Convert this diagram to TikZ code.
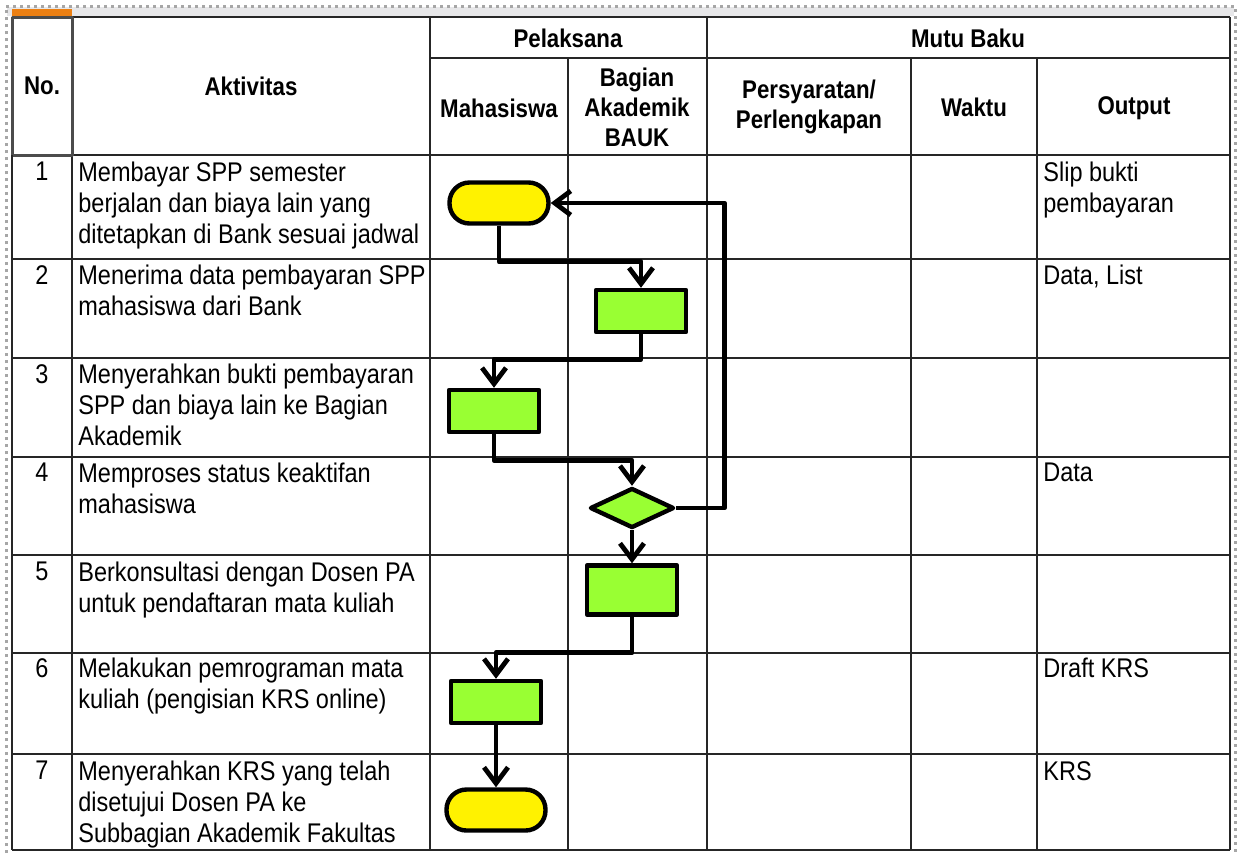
\documentclass[tikz,border=0pt]{standalone}
\usepackage{fontspec}
\setmainfont{Liberation Sans}[FakeStretch=0.87]
\usetikzlibrary{arrows.meta,shapes.geometric}
\definecolor{lgreen}{RGB}{153,255,51}

\begin{document}
\begin{tikzpicture}[x=0.5pt, y=-0.5pt, line join=round,
	grid/.style={line width=1.2pt, black!85},
	hd/.style={font=\fontsize{12.8}{15}\selectfont\bfseries, align=center, inner sep=0pt},
	txt/.style={font=\fontsize{13.5}{15.5}\selectfont, align=left, anchor=north west, inner sep=0pt},
	num/.style={font=\fontsize{13.5}{15.5}\selectfont, anchor=north, inner sep=0pt},
	term/.style={draw, line width=2.2pt, fill=yellow, rounded corners=10pt, minimum width=49.5pt, minimum height=20.5pt, inner sep=0pt},
	proc/.style={draw, line width=2.2pt, fill=lgreen, minimum width=45pt, minimum height=21pt, inner sep=0pt},
	dec/.style={diamond, draw, line width=2.2pt, fill=lgreen, minimum width=42pt, minimum height=20pt, inner sep=0pt},
	flow/.style={line width=2.4pt, -{Straight Barb[length=8pt, width=12pt, line width=2.4pt]}}]
	\useasboundingbox (0,0) rectangle (1241,853);
	
	% 外框与顶部标尺
	\fill[white] (0,0) rectangle (1241,853);
	\fill[blue!6!gray!18] (7,7) rectangle (1234,16);
	\draw[gray!70, line width=1.5pt, dotted] (6,853) -- (6,6) -- (1235,6) -- (1235,853);
	\fill[orange!70!brown] (12,9) rectangle (72,16);
	
	% 表格线
	\draw[grid] (12,17) -- (1230,17);
	\draw[grid] (430,58) -- (1230,58);
	\foreach \y in {155,259,358,457,555,653,754,850}
		\draw[grid] (12,\y) -- (1230,\y);
	\foreach \x in {72,430,707,1230}
		\draw[grid] (\x,17) -- (\x,850);
	\foreach \x in {568,911,1037}
		\draw[grid] (\x,58) -- (\x,850);
	\draw[gray!60!black, line width=1.5pt] (12,17) rectangle (72,155);
	\draw[grid] (12,155) -- (12,850);
	
	% 表头
	\node[hd] (hno) at (42,86) {No.};
	\node[hd] (hakt) at (251,86) {Aktivitas};
	\node[hd] (hpel) at (568,38) {Pelaksana};
	\node[hd] (hmutu) at (968,38) {Mutu Baku};
	\node[hd] (hmhs) at (499,108) {Mahasiswa};
	\node[hd] (hbauk) at (637,107) {Bagian\\Akademik\\BAUK};
	\node[hd] (hsyarat) at (809,107) {Persyaratan/\\Perlengkapan};
	\node[hd] (hwaktu) at (974,107) {Waktu};
	\node[hd] (hout) at (1134,108) {Output};
	
	% 编号与活动
	\node[num] (n1) at (42,162) {1};
	\node[num] (n2) at (42,265) {2};
	\node[num] (n3) at (42,364) {3};
	\node[num] (n4) at (42,463) {4};
	\node[num] (n5) at (42,562) {5};
	\node[num] (n6) at (42,658) {6};
	\node[num] (n7) at (42,761) {7};
	
	\node[txt] (a1) at (78,162) {Membayar SPP semester\\berjalan dan biaya lain yang\\ditetapkan di Bank sesuai jadwal};
	\node[txt] (a2) at (78,265) {Menerima data pembayaran SPP\\mahasiswa dari Bank};
	\node[txt] (a3) at (78,364) {Menyerahkan bukti pembayaran\\SPP dan biaya lain ke Bagian\\Akademik};
	\node[txt] (a4) at (78,463) {Memproses status keaktifan\\mahasiswa};
	\node[txt] (a5) at (78,562) {Berkonsultasi dengan Dosen PA\\untuk pendaftaran mata kuliah};
	\node[txt] (a6) at (78,658) {Melakukan pemrograman mata\\kuliah (pengisian KRS online)};
	\node[txt] (a7) at (78,761) {Menyerahkan KRS yang telah\\disetujui Dosen PA ke\\Subbagian Akademik Fakultas};
	
	% 输出
	\node[txt] (o1) at (1043,162) {Slip bukti\\pembayaran};
	\node[txt] (o2) at (1043,265) {Data, List};
	\node[txt] (o4) at (1043,463) {Data};
	\node[txt] (o6) at (1043,658) {Draft KRS};
	\node[txt] (o7) at (1043,761) {KRS};
	
	% 流程图形
	\node[term] (t1) at (499,203) {};
	\node[proc] (b2) at (641,311) {};
	\node[proc] (b3) at (494,411) {};
	\node[dec] (d4) at (632,508) {};
	\node[proc, minimum height=24.5pt] (b5) at (632,590) {};
	\node[proc] (b6) at (496,702) {};
	\node[term] (t7) at (496,810) {};
	
	% 连线
	\draw[flow] (t1.south) -- ++(0,36) -| (b2.north);
	\draw[flow] (b2.south) -- ++(0,25) -| (b3.north);
	\draw[flow] (b3.south) -- ++(0,26) -| (d4.north);
	\draw[flow] (d4.east) -- ++(48,0) |- (t1.east);
	\draw[flow] (d4.south) -- (b5.north);
	\draw[flow] (b5.south) -- ++(0,36) -| (b6.north);
	\draw[flow] (b6.south) -- (t7.north);
\end{tikzpicture}
\end{document}
